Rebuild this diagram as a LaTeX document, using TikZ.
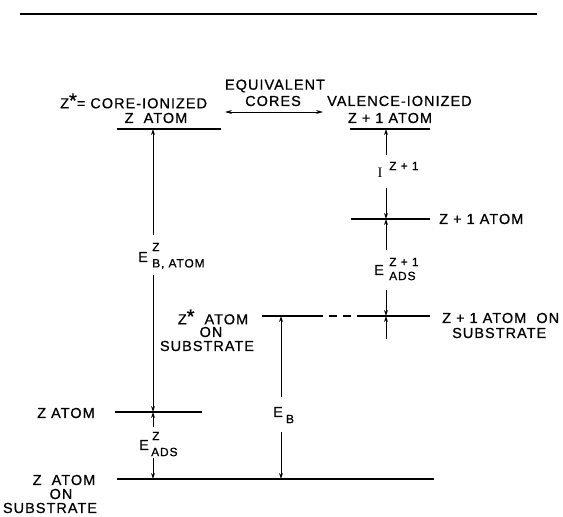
\documentclass[tikz,border=0pt]{standalone}
\usepackage{fontspec}
\setmainfont{Liberation Sans}[LetterSpace=7,FakeBold=0.7]
\usetikzlibrary{arrows.meta}
\newcommand\bigstar{\raisebox{1pt}{\fontsize{20}{20}\selectfont *}}
\begin{document}
\begin{tikzpicture}[x=1pt,y=-1pt,
  lbl/.style={font=\fontsize{14.5}{15}\selectfont, inner sep=0pt},
  sml/.style={font=\fontsize{12}{13}\selectfont, inner sep=0pt},
  serifI/.style={font=\fontspec{Liberation Serif}\fontsize{14.5}{15}\selectfont, inner sep=0pt},
  level/.style={line width=1.6pt},
  arr/.style={line width=0.8pt,-{Stealth[length=6pt,width=3.8pt]}},
]
\useasboundingbox (0,0) rectangle (563,517);
% top rule
\coordinate (ruleL) at (20,14);
\coordinate (ruleR) at (537,14);
\draw[line width=1.8pt] (ruleL) -- (ruleR);

% top labels
\node[lbl,anchor=west] (coreion) at (60,101) {Z\bigstar= CORE-IONIZED};
\node[lbl] (zatomtop) at (156,118) {Z\ \ ATOM};
\node[lbl] (equiv) at (275,86) {EQUIVALENT};
\node[lbl] (cores) at (273,101) {CORES};
\coordinate (eqL) at (225,112);
\coordinate (eqR) at (323,112);
\draw[line width=0.8pt,{Stealth[length=7pt,width=4pt]}-{Stealth[length=7pt,width=4pt]}] (eqL) -- (eqR);
\node[lbl,anchor=west] (valion) at (327,101) {VALENCE-IONIZED};
\node[lbl] (zp1top) at (390,118) {Z + 1 ATOM};

% levels
\coordinate (lvA1) at (117,129); \coordinate (lvA2) at (221,129);
\coordinate (lvB1) at (350,129); \coordinate (lvB2) at (430,129);
\coordinate (lvC1) at (351,219); \coordinate (lvC2) at (430,219);
\coordinate (lvD1) at (262,316); \coordinate (lvD2) at (315,316);
\coordinate (lvD3) at (357,316); \coordinate (lvD4) at (430,316);
\coordinate (lvE1) at (115,412); \coordinate (lvE2) at (202,412);
\coordinate (lvF1) at (117,479); \coordinate (lvF2) at (434,479);
\draw[level] (lvA1) -- (lvA2);
\draw[level] (lvB1) -- (lvB2);
\draw[level] (lvC1) -- (lvC2);
\draw[level] (lvD1) -- (lvD2);
\draw[level,dash pattern=on 8pt off 6pt] (lvD2) -- (lvD3);
\draw[level] (lvD3) -- (lvD4);
\draw[level] (lvE1) -- (lvE2);
\draw[level] (lvF1) -- (lvF2);

% left column arrows (x = 153)
\coordinate (a1) at (153,235); \coordinate (a1t) at (153,129);
\coordinate (a2) at (153,275); \coordinate (a2t) at (153,412);
\coordinate (a3) at (153,427); \coordinate (a3t) at (153,412);
\coordinate (a4) at (153,458); \coordinate (a4t) at (153,479);
\draw[arr] (a1) -- (a1t);
\draw[arr] (a2) -- (a2t);
\draw[arr] (a3) -- (a3t);
\draw[arr] (a4) -- (a4t);
\node[lbl] (ebE) at (143,257) {E};
\node[sml,anchor=west] (ebZ) at (152,247) {Z};
\node[sml,anchor=west] (ebB) at (152,264) {B, ATOM};
\node[lbl] (eaE) at (144,445) {E};
\node[sml,anchor=west] (eaZ) at (152,436) {Z};
\node[sml,anchor=west] (eaA) at (151,452) {ADS};

% E_B arrows (x = 281)
\coordinate (b1) at (281,397); \coordinate (b1t) at (281,316);
\coordinate (b2) at (281,432); \coordinate (b2t) at (281,479);
\draw[arr] (b1) -- (b1t);
\draw[arr] (b2) -- (b2t);
\node[lbl] (EbE) at (278,412) {E};
\node[sml] (EbB) at (290,419) {B};

% right column arrows (x = 386)
\coordinate (c1) at (386,155); \coordinate (c1t) at (386,129);
\coordinate (c2) at (386,188); \coordinate (c2t) at (386,219);
\coordinate (c3) at (386,250); \coordinate (c3t) at (386,219);
\coordinate (c4) at (386,290); \coordinate (c4t) at (386,316);
\coordinate (c5) at (386,339); \coordinate (c5t) at (386,316);
\draw[arr] (c1) -- (c1t);
\draw[arr] (c2) -- (c2t);
\draw[arr] (c3) -- (c3t);
\draw[arr] (c4) -- (c4t);
\draw[arr] (c5) -- (c5t);
\node[serifI] (iI) at (380,173) {I};
\node[sml,anchor=west] (iZ) at (389,166) {Z + 1};
\node[lbl] (eZE) at (379,270) {E};
\node[sml,anchor=west] (eZZ) at (389,262) {Z + 1};
\node[sml,anchor=west] (eZA) at (389,276) {ADS};

% right labels
\node[lbl,anchor=west] (zp1atom) at (439,219) {Z + 1 ATOM};
\node[lbl,anchor=west] (zp1sub) at (442,318) {Z + 1 ATOM\ \ ON};
\node[lbl,anchor=west] (zp1sub2) at (452,333) {SUBSTRATE};

% middle labels
\node[lbl] (zsA) at (213,317) {Z\bigstar\ \ ATOM};
\node[lbl] (zsB) at (211,332) {ON};
\node[lbl] (zsC) at (207,346) {SUBSTRATE};

% left labels
\node[lbl,anchor=west] (zatom) at (37,413) {Z ATOM};
\node[lbl] (zsubA) at (64,480) {Z\ \ ATOM};
\node[lbl] (zsubB) at (61,494) {ON};
\node[lbl] (zsubC) at (50,508) {SUBSTRATE};
\end{tikzpicture}
\end{document}
